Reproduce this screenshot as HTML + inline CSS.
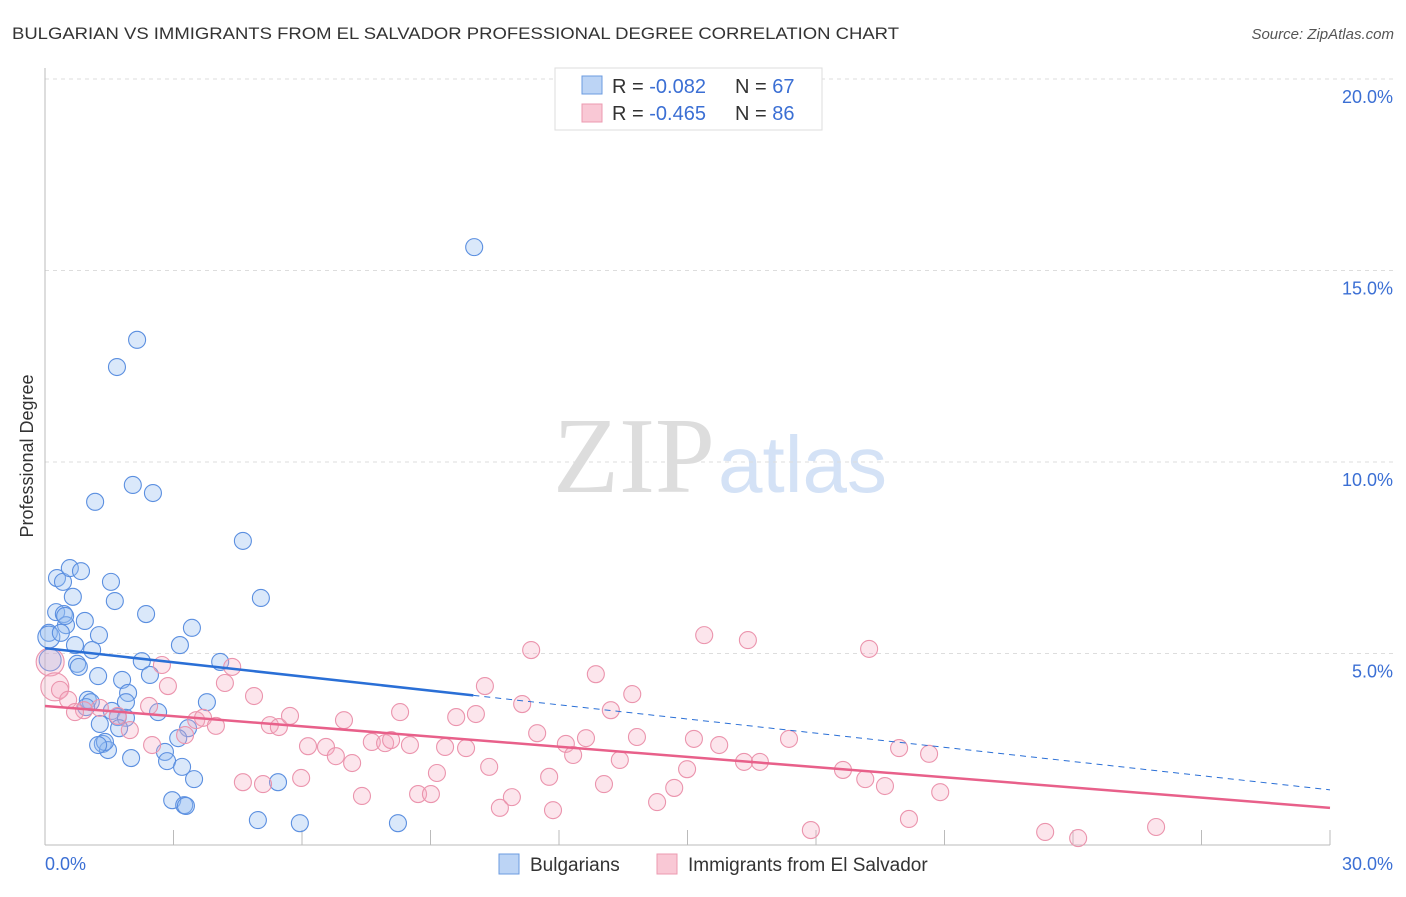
<!DOCTYPE html>
<html><head><meta charset="utf-8"><style>
body{margin:0;background:#fff;font-family:"Liberation Sans",sans-serif}
</style></head><body>
<svg width="1406" height="892" xmlns="http://www.w3.org/2000/svg" font-family="Liberation Sans, sans-serif">
<text x="12" y="39" font-size="17" fill="#333" textLength="887" lengthAdjust="spacingAndGlyphs">BULGARIAN VS IMMIGRANTS FROM EL SALVADOR PROFESSIONAL DEGREE CORRELATION CHART</text>
<text x="1394" y="39" font-size="15" fill="#555" font-style="italic" text-anchor="end">Source: ZipAtlas.com</text>
<text x="715" y="492" font-size="108" fill="#ddd" text-anchor="end" font-family="Liberation Serif, serif">ZIP</text>
<text x="718" y="492" font-size="80" fill="#d4e2f6">atlas</text>
<g id="grid"></g><g id="axes"></g><g id="pts"></g><g id="lines"></g>
<text transform="translate(33,456) rotate(-90)" font-size="18" fill="#333" text-anchor="middle">Professional Degree</text>
<g>
<rect x="555" y="68" width="267" height="62" fill="#fff" stroke="#ddd"/>
<rect x="582" y="76" width="20" height="18" fill="#bcd4f5" stroke="#6b9be0"/>
<rect x="582" y="104" width="20" height="18" fill="#f9c8d5" stroke="#ec9ab0"/>
<text x="612" y="93" font-size="20" fill="#333">R = <tspan fill="#3b6fd4">-0.082</tspan></text>
<text x="735" y="93" font-size="20" fill="#333">N = <tspan fill="#3b6fd4">67</tspan></text>
<text x="612" y="120" font-size="20" fill="#333">R = <tspan fill="#3b6fd4">-0.465</tspan></text>
<text x="735" y="120" font-size="20" fill="#333">N = <tspan fill="#3b6fd4">86</tspan></text>
</g>
<g>
<rect x="499" y="854" width="20" height="20" fill="#bcd4f5" stroke="#6b9be0"/>
<text x="530" y="871" font-size="19" fill="#333">Bulgarians</text>
<rect x="657" y="854" width="20" height="20" fill="#f9c8d5" stroke="#ec9ab0"/>
<text x="688" y="871" font-size="19" fill="#333">Immigrants from El Salvador</text>
</g>
</svg>
<script>
const blueX=[10.02,2.15,1.68,2.05,2.52,1.17,4.62,5.04,0.28,0.42,0.58,0.84,1.54,0.26,0.44,0.65,1.63,2.36,0.93,0.49,0.09,1.26,3.43,3.15,0.70,1.10,0.75,0.79,2.26,4.09,2.45,1.80,1.24,1.94,1.00,1.07,1.89,3.78,0.96,1.56,2.64,1.70,1.89,1.73,1.28,3.34,3.11,1.35,1.47,2.80,2.85,2.01,3.20,3.48,2.97,3.25,3.29,4.97,5.95,8.24,5.44,0.09,0.12,0.37,0.47,1.40,1.24];
const blueY=[15.61,13.19,12.48,9.40,9.19,8.96,7.94,6.45,6.97,6.87,7.23,7.15,6.87,6.08,6.03,6.48,6.37,6.03,5.85,5.74,5.54,5.48,5.67,5.22,5.22,5.09,4.73,4.65,4.80,4.78,4.44,4.31,4.41,3.97,3.79,3.73,3.73,3.73,3.60,3.50,3.47,3.34,3.32,3.05,3.16,3.05,2.79,2.64,2.48,2.43,2.19,2.27,2.04,1.72,1.17,1.04,1.02,0.65,0.57,0.57,1.64,5.43,4.83,5.54,5.98,2.69,2.61];
const pinkX=[0.12,0.23,0.35,0.54,0.91,0.70,1.28,1.70,1.98,2.43,2.50,2.73,2.87,3.27,3.53,3.69,3.99,4.20,4.37,4.88,4.62,5.09,5.25,5.46,5.72,5.98,6.14,6.56,6.79,6.98,7.17,7.40,7.63,7.94,8.08,8.29,8.52,8.71,9.01,9.15,9.34,9.60,9.83,10.06,10.27,10.37,10.62,10.90,11.14,11.35,11.49,11.77,11.86,12.16,12.33,12.63,12.86,13.05,13.21,13.42,13.71,13.82,14.29,14.69,14.99,15.15,15.39,15.74,16.32,16.41,16.69,17.37,17.88,18.63,19.15,19.24,19.61,19.94,20.17,20.64,20.90,23.35,24.12,25.94];
const pinkY=[4.78,4.13,4.05,3.79,3.52,3.47,3.58,3.37,3.00,3.63,2.61,4.70,4.15,2.87,3.26,3.32,3.11,4.23,4.65,3.89,1.64,1.59,3.13,3.08,3.37,1.75,2.58,2.56,2.32,3.26,2.14,1.28,2.69,2.66,2.74,3.47,2.61,1.33,1.33,1.88,2.56,3.34,2.53,3.42,4.15,2.04,0.97,1.25,3.68,5.09,2.92,1.78,0.91,2.64,2.35,2.79,4.46,1.59,3.52,2.22,3.94,2.82,1.12,1.49,1.98,2.77,5.48,2.61,2.17,5.35,2.17,2.77,0.39,1.96,1.72,5.12,1.54,2.53,0.68,2.38,1.38,0.34,0.18,0.47];
const yTicks=[5,10,15,20];
const yTickLabels=["5.0%","10.0%","15.0%","20.0%"];
const blueTrend=[5.14,1.44];
const pinkTrend=[3.63,0.97];
const X0=45,X1=1330,Y0=845,PX=(X1-X0)/30,PY=38.3;
const sx=v=>X0+v*PX, sy=v=>Y0-v*PY;
const NS="http://www.w3.org/2000/svg";
function mk(p,t,a){const e=document.createElementNS(NS,t);for(const k in a)e.setAttribute(k,a[k]);p.appendChild(e);return e;}
const grid=document.getElementById('grid'),axes=document.getElementById('axes'),pts=document.getElementById('pts'),lines=document.getElementById('lines');
yTicks.forEach((v,i)=>{
 const l=mk(grid,'line',{x1:X0,x2:1393,y1:sy(v),y2:sy(v),stroke:'#ddd','stroke-dasharray':'4,4'});
 
 
 const t=mk(grid,'text',{x:1393,y:sy(v)+24,'font-size':18,fill:'#3b6fd4','text-anchor':'end'});
 t.textContent=yTickLabels[i];
 
 
});
const ax=mk(axes,'line',{x1:X0,x2:X1,y1:Y0,y2:Y0,stroke:'#bbb'});


const ay=mk(axes,'line',{x1:X0,x2:X0,y1:68,y2:Y0,stroke:'#bbb'});


for(let i=0;i<=10;i++){const x=sx(i*3);const t=mk(axes,'line',{x1:x,x2:x,y1:Y0-15,y2:Y0,stroke:'#bbb'});
 
 }
const xl0=mk(axes,'text',{x:45,y:870,'font-size':18,fill:'#3b6fd4'});xl0.textContent='0.0%';


const xl1=mk(axes,'text',{x:1393,y:870,'font-size':18,fill:'#3b6fd4','text-anchor':'end'});xl1.textContent='30.0%';


blueX.forEach((v,i)=>{const c=mk(pts,'circle',{cx:sx(v),cy:sy(blueY[i]),r:i>=61&&i<=62?11:8.5,fill:'rgba(150,190,240,0.35)',stroke:'#5b8fe0','stroke-width':1.1});
 
 });
pinkX.forEach((v,i)=>{const c=mk(pts,'circle',{cx:sx(v),cy:sy(pinkY[i]),r:i<2?14:8.5,fill:'rgba(245,170,192,0.3)',stroke:'#eb94ad','stroke-width':1.1});
 
 });
const bAt=x=>blueTrend[0]+(blueTrend[1]-blueTrend[0])*x/30;
const b1=mk(lines,'line',{x1:sx(0),y1:sy(bAt(0)),x2:sx(10),y2:sy(bAt(10)),stroke:'#2a6fd6','stroke-width':2.5});


const b2=mk(lines,'line',{x1:sx(10),y1:sy(bAt(10)),x2:sx(30),y2:sy(bAt(30)),stroke:'#2a6fd6','stroke-width':1,'stroke-dasharray':'6,5'});


const p1=mk(lines,'line',{x1:sx(0),y1:sy(pinkTrend[0]),x2:sx(30),y2:sy(pinkTrend[1]),stroke:'#e8608a','stroke-width':2.5});


</script>
</body></html>
